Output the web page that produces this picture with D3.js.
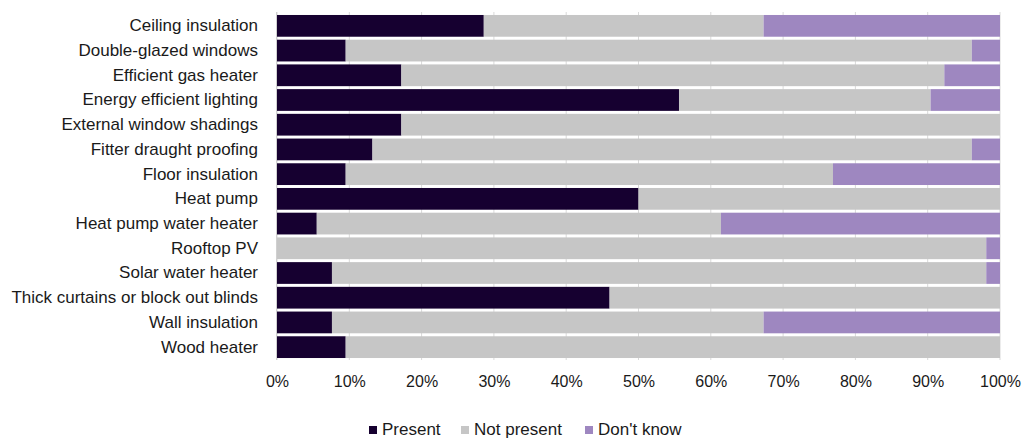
<!DOCTYPE html>
<html>
<head>
<meta charset="utf-8">
<script src="https://cdn.jsdelivr.net/npm/d3@7"></script>
<style>
  html, body { margin: 0; padding: 0; background: #ffffff; }
  svg { display: block; font-family: "Liberation Sans", Arial, sans-serif; }
</style>
</head>
<body>
<svg id="chart" width="1033" height="439"></svg>
<script>
const categories = [
  "Ceiling insulation",
  "Double-glazed windows",
  "Efficient gas heater",
  "Energy efficient lighting",
  "External window shadings",
  "Fitter draught proofing",
  "Floor insulation",
  "Heat pump",
  "Heat pump water heater",
  "Rooftop PV",
  "Solar water heater",
  "Thick curtains or block out blinds",
  "Wall insulation",
  "Wood heater"
];
const seriesNames = ["Present", "Not present", "Don't know"];
const present    = [28.6, 9.5, 17.2, 55.6, 17.2, 13.2, 9.5, 50.0, 5.5, 0.0, 7.6, 46.0, 7.6, 9.5];
const notPresent = [38.7, 86.6, 75.1, 34.8, 82.8, 82.9, 67.4, 50.0, 55.9, 98.1, 90.5, 54.0, 59.7, 90.5];
const dontKnow   = [32.7, 3.9, 7.7, 9.6, 0.0, 3.9, 23.1, 0.0, 38.6, 1.9, 1.9, 0.0, 32.7, 0.0];
const tickValues = [0, 10, 20, 30, 40, 50, 60, 70, 80, 90, 100];
const colors = ["#160030", "#c6c6c6", "#9e87c0"];

const svg = d3.select("#chart");
const x = d3.scaleLinear().domain([0, 100]).range([277, 1000]);
const y = d3.scaleBand().domain(categories).range([13.5, 359.5]).paddingInner(0.12).paddingOuter(0.06);

const rows = categories.map((c, i) => ({ cat: c, vals: [present[i], notPresent[i], dontKnow[i]] }));
const stackData = rows.map(r => { const o = { cat: r.cat }; seriesNames.forEach((s, k) => o[s] = r.vals[k]); return o; });
const stacked = d3.stack().keys(seriesNames)(stackData);

// gridlines
svg.append("g").selectAll("line").data(tickValues).join("line")
  .attr("x1", d => x(d)).attr("x2", d => x(d))
  .attr("y1", 12).attr("y2", 360)
  .attr("stroke", "#d9d9d9").attr("stroke-width", 1);

// bars
svg.append("g").selectAll("g").data(stacked).join("g")
  .attr("fill", (d, i) => colors[i])
  .selectAll("rect").data(d => d).join("rect")
  .attr("x", d => x(d[0]))
  .attr("width", d => Math.max(0, x(d[1]) - x(d[0])))
  .attr("y", d => y(d.data.cat))
  .attr("height", y.bandwidth());

// left axis line
svg.append("line").attr("x1", 276.5).attr("x2", 276.5).attr("y1", 12).attr("y2", 360)
  .attr("stroke", "#d0d0d0").attr("stroke-width", 1);

// category labels
const yAxis = svg.append("g").attr("transform", "translate(258,0)")
  .call(d3.axisLeft(y).tickSize(0).tickPadding(0));
yAxis.select(".domain").remove();
yAxis.selectAll("text").attr("font-size", 17).attr("fill", "#1a1a1a")
  .attr("font-family", "'Liberation Sans', Arial, sans-serif");

// x axis labels
const xAxis = svg.append("g").attr("transform", "translate(0,376)")
  .call(d3.axisBottom(x).tickValues(tickValues).tickFormat(d => d + "%").tickSize(0).tickPadding(0));
xAxis.select(".domain").remove();
xAxis.selectAll("text").attr("font-size", 16).attr("fill", "#1a1a1a")
  .attr("font-family", "'Liberation Sans', Arial, sans-serif");

// legend
const legendX = [369, 461, 585];
const lg = svg.append("g").selectAll("g").data(seriesNames).join("g")
  .attr("transform", (d, i) => `translate(${legendX[i]},0)`);
lg.append("rect").attr("x", 0).attr("y", 426).attr("width", 8).attr("height", 8)
  .attr("fill", (d, i) => colors[i]);
lg.append("text").attr("x", 13).attr("y", 435).attr("font-size", 17).attr("fill", "#1a1a1a")
  .text(d => d);
</script>
</body>
</html>
